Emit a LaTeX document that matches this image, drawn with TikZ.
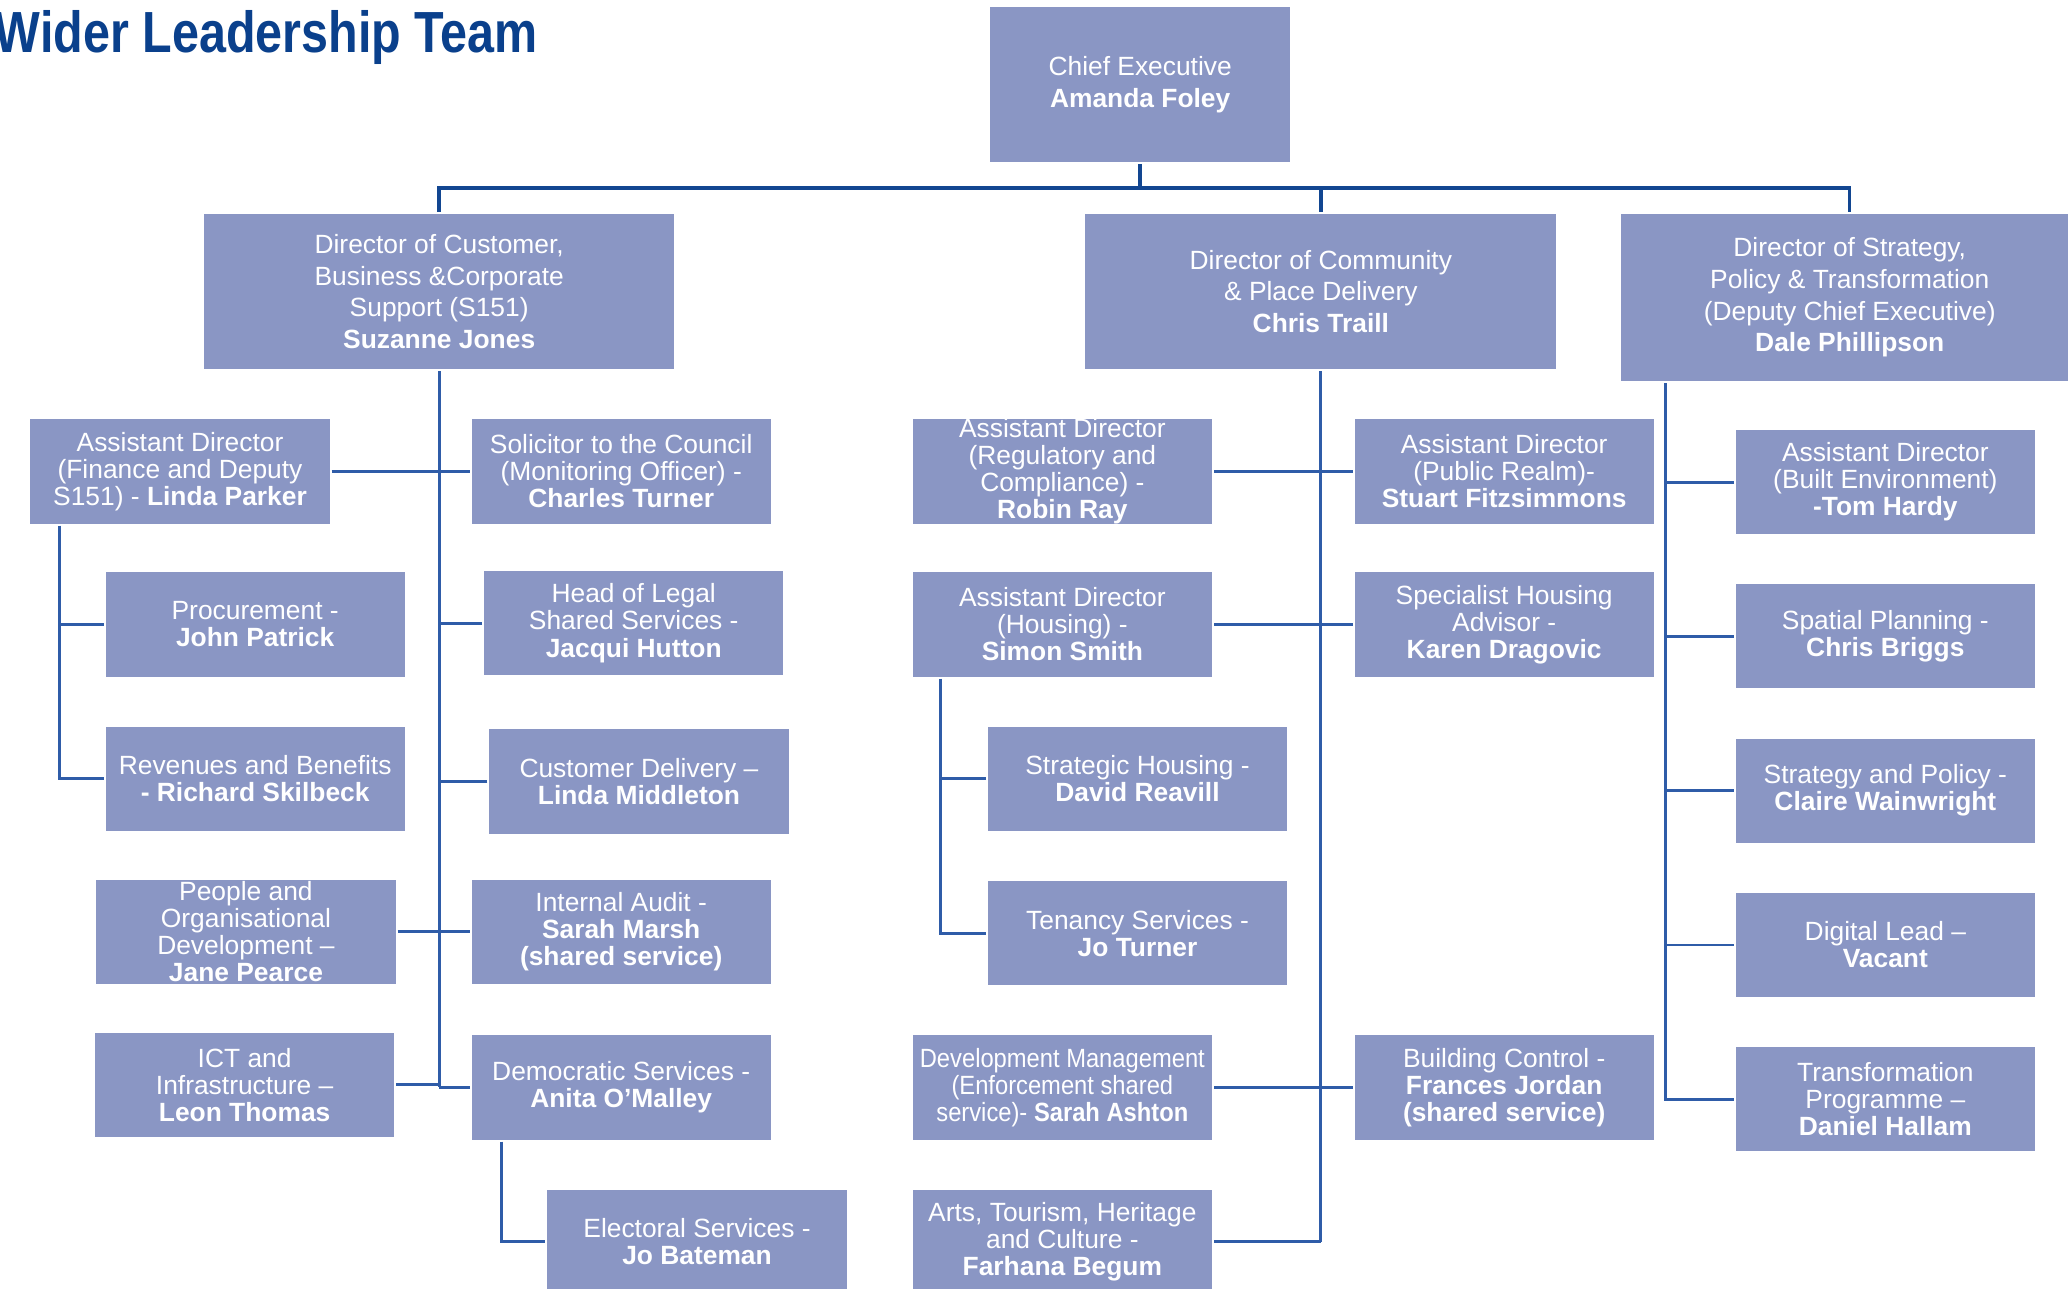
\documentclass[tikz,border=0pt]{standalone}
\usepackage{fontspec}
\setmainfont{Liberation Sans}
\newfontfamily\titlefont{Liberation Sans}[FakeStretch=0.835]
\newfontfamily\narrowfont{Liberation Sans}[FakeStretch=0.9]
\usetikzlibrary{positioning}
\definecolor{boxfill}{RGB}{138,150,196}
\definecolor{wireblue}{RGB}{47,92,168}
\definecolor{busblue}{RGB}{18,70,145}
\definecolor{titleblue}{RGB}{10,64,140}

\begin{document}
\begin{tikzpicture}[x=1pt, y=-1pt,
  box/.style={rectangle, fill=boxfill, text=white, minimum width=227pt, minimum height=79pt,
    inner sep=0pt, outer sep=1.5pt, align=center, font=\fontsize{20}{20.5}\selectfont},
  dirbox/.style={box, minimum height=118pt, font=\fontsize{20}{24}\selectfont},
  wire/.style={draw=wireblue, line width=2.2pt},
  bus/.style={draw=busblue, line width=2.6pt}]
   \useasboundingbox (0,0) rectangle (1568,977);

   \node[anchor=base west, inner sep=0pt, text=titleblue,
     font=\titlefont\bfseries\fontsize{44}{44}\selectfont] (title) at (-4,40) {Wider Leadership Team};

   % top level
   \node[dirbox] (ce) at (864.5,64) {Chief Executive\\\textbf{Amanda Foley}};
   \node[dirbox, minimum width=356pt] (dcust) at (333,221) {Director of Customer,\\Business \&Corporate\\Support (S151)\\\textbf{Suzanne Jones}};
   \node[dirbox, minimum width=357pt] (dcom) at (1001.5,221) {Director of Community\\\& Place Delivery\\\textbf{Chris Traill}};
   \node[dirbox, minimum width=347pt, minimum height=127pt] (dstrat) at (1402.5,225.5) {Director of Strategy,\\Policy \& Transformation\\(Deputy Chief Executive)\\\textbf{Dale Phillipson}};

   \draw[bus] (ce.south) -- ++(0,18) coordinate (bus);
   \draw[bus] (dcust.north) |- (bus) -| (dstrat.north);
   \draw[bus] (bus -| dcom.north) -- (dcom.north);

   % customer, business & corporate support
   \node[box] (fin) at (136.5,357.5) {Assistant Director\\(Finance and Deputy\\S151) - \textbf{Linda Parker}};
   \node[box] (sol) at (471,357.5) {Solicitor to the Council\\(Monitoring Officer) -\\\textbf{Charles Turner}};
   \node[box] (proc) at (193.5,473.5) {Procurement -\\\textbf{John Patrick}};
   \node[box] (rev) at (193.5,590.5) {Revenues and Benefits\\\textbf{- Richard Skilbeck}};
   \node[box] (legal) at (480.5,472.5) {Head of Legal\\Shared Services -\\\textbf{Jacqui Hutton}};
   \node[box] (cdel) at (484.5,592.5) {Customer Delivery \textendash\\\textbf{Linda Middleton}};
   \node[box] (pod) at (186.5,706.5) {People and\\Organisational\\Development \textendash\\\textbf{Jane Pearce}};
   \node[box] (audit) at (471,706.5) {Internal Audit -\\\textbf{Sarah Marsh}\\\textbf{(shared service)}};
   \node[box] (ict) at (185.5,822.5) {ICT and\\Infrastructure \textendash\\\textbf{Leon Thomas}};
   \node[box] (dem) at (471,824.5) {Democratic Services -\\\textbf{Anita O’Malley}};
   \node[box] (elec) at (528.5,941.5) {Electoral Services -\\\textbf{Jo Bateman}};

   \draw[wire] (dcust.south) -- (dcust.south |- dem.west);
   \draw[wire] (fin.east) -- (sol.west);
   \draw[wire] (legal.west) -- (legal.west -| dcust.south);
   \draw[wire] (cdel.west) -- (cdel.west -| dcust.south);
   \draw[wire] (pod.east) -- (audit.west);
   \draw[wire] (ict.east) -- (ict.east -| dcust.south);
   \draw[wire] (dem.west) -- (dem.west -| dcust.south);
   \coordinate (finx) at (45,0);
   \draw[wire] (finx |- fin.south) |- (rev.west);
   \draw[wire] (proc.west) -- (proc.west -| finx);
   \coordinate (demx) at (380,0);
   \draw[wire] (demx |- dem.south) |- (elec.west);

   % community & place delivery
   \node[box] (reg) at (805.5,357.5) {Assistant Director\\(Regulatory and\\Compliance) -\\\textbf{Robin Ray}};
   \node[box] (pub) at (1140.5,357.5) {Assistant Director\\(Public Realm)-\\\textbf{Stuart Fitzsimmons}};
   \node[box] (hous) at (805.5,473.5) {Assistant Director\\(Housing) -\\\textbf{Simon Smith}};
   \node[box] (spec) at (1140.5,473.5) {Specialist Housing\\Advisor -\\\textbf{Karen Dragovic}};
   \node[box] (strh) at (862.5,590.5) {Strategic Housing -\\\textbf{David Reavill}};
   \node[box] (ten) at (862.5,707.5) {Tenancy Services -\\\textbf{Jo Turner}};
   \node[box, font=\narrowfont\fontsize{20}{20.5}\selectfont] (devm) at (805.5,824.5) {Development Management\\(Enforcement shared\\service)- \textbf{Sarah Ashton}};
   \node[box] (bc) at (1140.5,824.5) {Building Control -\\\textbf{Frances Jordan}\\\textbf{(shared service)}};
   \node[box] (arts) at (805.5,941.5) {Arts, Tourism, Heritage\\and Culture -\\\textbf{Farhana Begum}};

   \draw[wire] (dcom.south) -- (dcom.south |- arts.east);
   \draw[wire] (reg.east) -- (pub.west);
   \draw[wire] (hous.east) -- (spec.west);
   \draw[wire] (devm.east) -- (bc.west);
   \draw[wire] (arts.east) -- (arts.east -| dcom.south);
   \coordinate (housx) at (713,0);
   \draw[wire] (housx |- hous.south) |- (ten.west);
   \draw[wire] (strh.west) -- (strh.west -| housx);

   % strategy, policy & transformation
   \node[box] (built) at (1429.5,365.5) {Assistant Director\\(Built Environment)\\\textbf{-Tom Hardy}};
   \node[box] (spat) at (1429.5,482.5) {Spatial Planning -\\\textbf{Chris Briggs}};
   \node[box] (stpol) at (1429.5,599.5) {Strategy and Policy -\\\textbf{Claire Wainwright}};
   \node[box] (dig) at (1429.5,716.5) {Digital Lead \textendash\\\textbf{Vacant}};
   \node[box] (trans) at (1429.5,833.5) {Transformation\\Programme \textendash\\\textbf{Daniel Hallam}};

   \coordinate (stratx) at (1263,0);
   \draw[wire] (stratx |- dstrat.south) |- (trans.west);
   \foreach \n in {built,spat,stpol,dig}
     \draw[wire] (\n.west) -- (\n.west -| stratx);
\end{tikzpicture}
\end{document}
